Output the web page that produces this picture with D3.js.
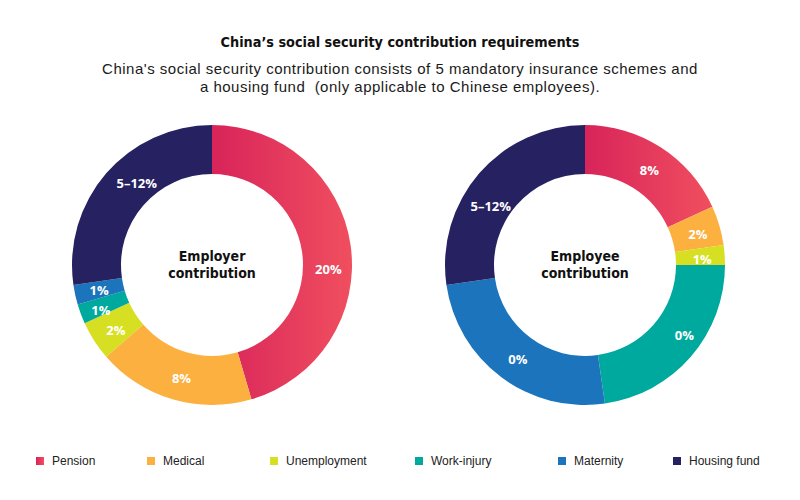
<!DOCTYPE html>
<html>
<head>
<meta charset="utf-8">
<script src="https://cdn.jsdelivr.net/npm/d3@7"></script>
<style>
  html, body { margin: 0; padding: 0; background: #ffffff; }
  svg { display: block; }
</style>
</head>
<body>
<svg id="chart" width="800" height="500"></svg>
<script>
// ---------- DATA ----------
const categories = ["Pension", "Medical", "Unemployment", "Work-injury", "Maternity", "Housing fund"];
// slice sizes as drawn in the reference
const employerValues = [20, 8, 2, 1, 1, 12];
const employerLabels = ["20%", "8%", "2%", "1%", "1%", "5–12%"];
const employeeValues = [8, 2, 1, 10, 11, 12];
const employeeLabels = ["8%", "2%", "1%", "0%", "0%", "5–12%"];
const colors = ["#e23158", "#fbb040", "#d7df23", "#00a99d", "#1c75bc", "#262262"];
const pensionGradient = ["#d8245a", "#f04f5f"];

// ---------- LAYOUT ----------
const W = 800, H = 500;
const outerR = 140, innerR = 91;
const charts = [
  { cx: 212, cy: 265, values: employerValues, labels: employerLabels, center: ["Employer", "contribution"], id: "er",
    nudge: { 0: [0, 18], 2: [-1, 1], 3: [-5, 3], 4: [-2, -2], 5: [10, -8] } },
  { cx: 585, cy: 265, values: employeeValues, labels: employeeLabels, center: ["Employee", "contribution"], id: "ee",
    nudge: { 3: [10, -8], 5: [-9, 15] } }
];
const legendX = [36, 147, 270, 415, 558, 673];
const legendY = 457;

const svg = d3.select("#chart");
const defs = svg.append("defs");

function addGrad(id) {
  const g = defs.append("linearGradient").attr("id", id)
    .attr("x1", "0%").attr("y1", "0%").attr("x2", "100%").attr("y2", "0%");
  g.append("stop").attr("offset", "0%").attr("stop-color", pensionGradient[0]);
  g.append("stop").attr("offset", "100%").attr("stop-color", pensionGradient[1]);
}
addGrad("grad-er"); addGrad("grad-ee"); addGrad("grad-leg");

// Title
svg.append("text")
  .attr("x", 400).attr("y", 47)
  .attr("text-anchor", "middle")
  .style("font-family", "'DejaVu Sans Condensed', 'Liberation Sans Narrow', sans-serif")
  .style("font-weight", "bold")
  .style("font-size", "14.3px")
  .attr("fill", "#111")
  .text("China’s social security contribution requirements");

const sub = svg.append("text")
  .attr("text-anchor", "middle")
  .style("font-family", "'Liberation Sans', Arial, sans-serif")
  .style("font-size", "15px")
  .style("letter-spacing", "0.5px")
  .attr("fill", "#1a1a1a");
sub.append("tspan").attr("x", 400).attr("y", 74)
  .text("China's social security contribution consists of 5 mandatory insurance schemes and");
sub.append("tspan").attr("x", 400).attr("y", 92)
  .text("a housing fund\u00a0 (only applicable to Chinese employees).");

const pie = d3.pie().sort(null).value(d => d);
const arc = d3.arc().innerRadius(innerR).outerRadius(outerR);
const labelArc = d3.arc().innerRadius((innerR + outerR) / 2).outerRadius((innerR + outerR) / 2);

charts.forEach(c => {
  const g = svg.append("g").attr("transform", `translate(${c.cx},${c.cy})`);
  const arcs = pie(c.values);
  g.selectAll("path.slice").data(arcs).enter().append("path")
    .attr("class", "slice")
    .attr("d", arc)
    .attr("fill", (d, i) => i === 0 ? `url(#grad-${c.id})` : colors[i]);

  g.selectAll("text.lbl").data(arcs).enter().append("text")
    .attr("class", "lbl")
    .attr("transform", (d, i) => {
      const p = labelArc.centroid(d);
      const n = c.nudge[i] || [0, 0];
      return `translate(${p[0] + 2 + n[0]},${p[1] + 2 + n[1]})`;
    })
    .attr("text-anchor", "middle")
    .attr("dominant-baseline", "central")
    .style("font-family", "'Open Sans', Lato, sans-serif")
    .style("font-weight", "bold")
    .style("font-size", "13px")
    .attr("fill", "#ffffff")
    .text((d, i) => c.labels[i]);

  const ct = g.append("text")
    .attr("text-anchor", "middle")
    .style("font-family", "'DejaVu Sans Condensed', 'Liberation Sans Narrow', sans-serif")
    .style("font-weight", "bold")
    .style("font-size", "14px")
    .attr("fill", "#111");
  ct.append("tspan").attr("x", 0).attr("y", -4).text(c.center[0]);
  ct.append("tspan").attr("x", 0).attr("y", 13).text(c.center[1]);
});

// Legend
const leg = svg.append("g");
const items = leg.selectAll("g").data(categories).enter().append("g")
  .attr("transform", (d, i) => `translate(${legendX[i]},${legendY})`);
items.append("rect").attr("width", 8).attr("height", 8)
  .attr("fill", (d, i) => i === 0 ? "url(#grad-leg)" : colors[i]);
items.append("text").attr("x", 16).attr("y", 8)
  .style("font-family", "'Liberation Sans', Arial, sans-serif")
  .style("font-size", "12px")
  .attr("fill", "#222")
  .text(d => d);
</script>
</body>
</html>
